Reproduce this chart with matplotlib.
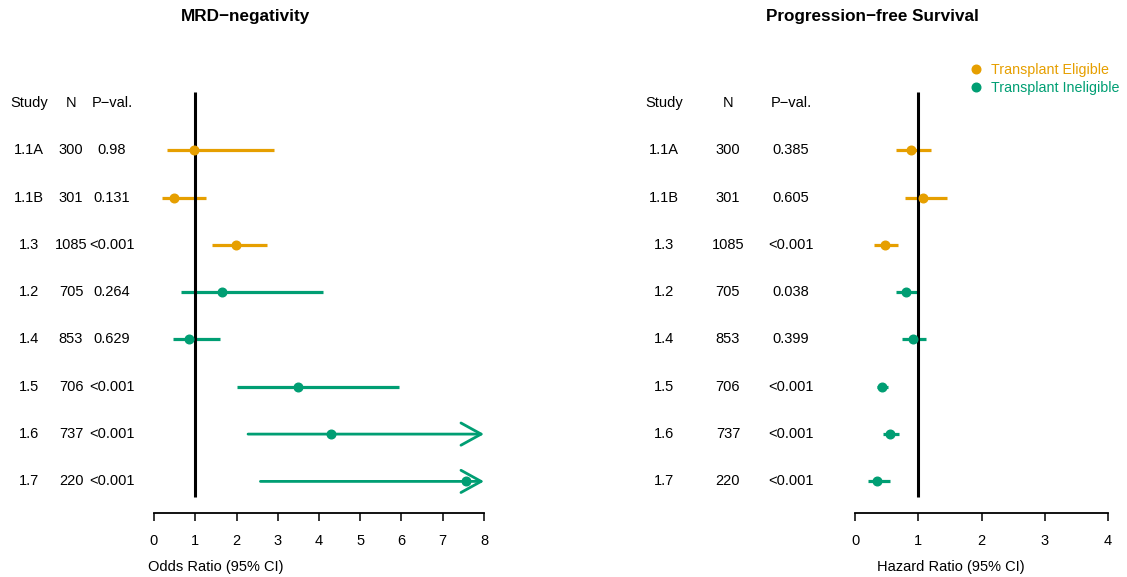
import numpy as np
import matplotlib
matplotlib.use("Agg")
import matplotlib.pyplot as plt
import matplotlib.transforms as mtransforms
from matplotlib.lines import Line2D

plt.rcParams["font.family"] = ["Liberation Sans", "DejaVu Sans"]

# Study data
studies = ["1.1A", "1.1B", "1.3", "1.2", "1.4", "1.5", "1.6", "1.7"]
group = ["TE", "TE", "TE", "TI", "TI", "TI", "TI", "TI"]
n_pts = [300, 301, 1085, 705, 853, 706, 737, 220]

# MRD-negativity: odds ratios with 95% CI (upper bound beyond axis -> inf)
or_est = [0.98, 0.48, 1.98, 1.66, 0.86, 3.48, 4.30, 7.56]
or_low = [0.31, 0.19, 1.41, 0.65, 0.45, 2.02, 2.28, 2.58]
or_high = [2.91, 1.25, 2.75, 4.09, 1.59, 5.93, np.inf, np.inf]
or_p = ["0.98", "0.131", "<0.001", "0.264", "0.629", "<0.001", "<0.001", "<0.001"]

# Progression-free survival: hazard ratios with 95% CI
hr_est = [0.885, 1.08, 0.47, 0.80, 0.92, 0.43, 0.55, 0.35]
hr_low = [0.65, 0.79, 0.30, 0.65, 0.74, 0.35, 0.45, 0.21]
hr_high = [1.20, 1.46, 0.68, 0.98, 1.13, 0.52, 0.69, 0.56]
hr_p = ["0.385", "0.605", "<0.001", "0.038", "0.399", "<0.001", "<0.001", "<0.001"]

or_ticks = [0, 1, 2, 3, 4, 5, 6, 7, 8]
hr_ticks = [0, 1, 2, 3, 4]

colors = {"TE": "#E69F00", "TI": "#009E73"}
labels = {"TE": "Transplant Eligible", "TI": "Transplant Ineligible"}

W, H = 1127, 577
fig = plt.figure(figsize=(W / 100, H / 100), dpi=100)

# rows: header at y=0, studies at 1..8; row pitch in pixels
row_px = 47.3
header_px = 103
top_px, bottom_px = 60, 513
TXT = 10.5


def px_to_y(p):
    return (p - header_px) / row_px


def make_axes(left_px, right_px):
    ax = fig.add_axes([left_px / W, (H - bottom_px) / H,
                       (right_px - left_px) / W, (bottom_px - top_px) / H])
    ax.set_ylim(px_to_y(bottom_px), px_to_y(top_px))
    for s in ["top", "right", "left"]:
        ax.spines[s].set_visible(False)
    ax.set_yticks([])
    ax.spines["bottom"].set_linewidth(1.3)
    ax.tick_params(axis="x", length=6, width=1.1, labelsize=10.5, pad=9)
    return ax


def forest(ax, est, low, high, pvals, ticks, col_x, xlabel, xlabel_px, title, title_px):
    xmax = ticks[-1]
    ax.set_xlim(ticks[0], xmax)
    ax.set_xticks(ticks)
    ax.spines["bottom"].set_bounds(ticks[0], xmax)
    ax.plot([1, 1], [px_to_y(92), px_to_y(497)], color="black", lw=2.2,
            zorder=3, solid_capstyle="butt")
    rows = np.arange(1, len(studies) + 1)
    for y, e, lo, hi, g in zip(rows, est, low, high, group):
        c = colors[g]
        if np.isfinite(hi) and hi <= xmax:
            ax.plot([lo, hi], [y, y], color=c, lw=2.3, solid_capstyle="butt",
                    zorder=2)
        else:
            ax.annotate("", xy=(xmax, y), xytext=(lo, y),
                        arrowprops=dict(arrowstyle="->,head_length=1.45,head_width=0.8",
                                        color=c, lw=2.0, shrinkA=0, shrinkB=0),
                        annotation_clip=False, zorder=2)
        ax.plot(e, y, "o", color=c, ms=6.2, zorder=4, clip_on=False)

    tr = mtransforms.blended_transform_factory(fig.transFigure, ax.transData)
    heads = ["Study", "N", "P\u2212val."]
    for x, h in zip(col_x, heads):
        ax.text(x / W, 0, h, transform=tr, ha="center", va="center", fontsize=TXT)
    for y, s, n, p in zip(rows, studies, n_pts, pvals):
        ax.text(col_x[0] / W, y, s, transform=tr, ha="center", va="center", fontsize=TXT)
        ax.text(col_x[1] / W, y, str(n), transform=tr, ha="center", va="center", fontsize=TXT)
        ax.text(col_x[2] / W, y, p, transform=tr, ha="center", va="center", fontsize=TXT)

    fig.text(xlabel_px / W, 1 - 567 / H, xlabel, ha="left", va="center", fontsize=10.5)
    fig.text(title_px / W, 1 - 16 / H, title, ha="center", va="center",
             fontsize=12.3, fontweight="bold")


ax1 = make_axes(154, 484)
forest(ax1, or_est, or_low, or_high, or_p, or_ticks, [29, 71, 112],
       "Odds Ratio (95% CI)", 148, "MRD\u2212negativity", 246)

ax2 = make_axes(855, 1108)
forest(ax2, hr_est, hr_low, hr_high, hr_p, hr_ticks, [664, 728, 791],
       "Hazard Ratio (95% CI)", 877, "Progression\u2212free Survival", 872)

handles = [Line2D([], [], marker="o", ls="", color=colors[k], ms=6.2) for k in ["TE", "TI"]]
leg = fig.legend(handles, [labels[k] for k in ["TE", "TI"]],
                 loc="upper left", bbox_to_anchor=(969 / W, 1 - 63 / H),
                 frameon=False, fontsize=10.3, handlelength=1.0, handletextpad=0.55,
                 labelspacing=0.3, borderpad=0, borderaxespad=0)
for t, k in zip(leg.get_texts(), ["TE", "TI"]):
    t.set_color(colors[k])

fig.savefig("out.png", dpi=100)
